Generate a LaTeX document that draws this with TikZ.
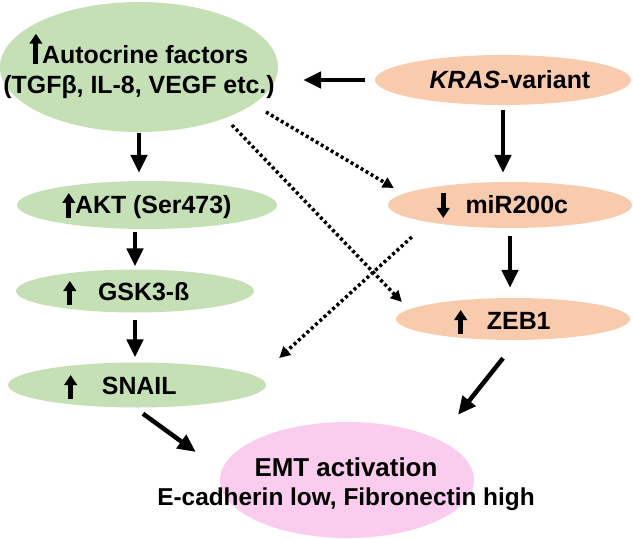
\documentclass[tikz,border=0pt]{standalone}
\usepackage{fontspec}
\setmainfont{Liberation Sans}
\usetikzlibrary{shapes.geometric,arrows.meta,calc}
\definecolor{grn}{HTML}{C5E0B4}
\definecolor{org}{HTML}{F8CBAD}
\definecolor{pnk}{HTML}{FACCEE}
\newcommand\myarrowglyph[2]{\tikz[baseline=0pt]\draw[line width=5bp,-{Triangle[length=10bp,width=12.5bp]}] (0pt,#1) -- (0pt,#2);}
\begin{document}
\begin{tikzpicture}[x=1bp,y=-1bp,
  font=\fontsize{25}{30}\selectfont\bfseries,
  ell/.style={ellipse, inner sep=0pt, draw=none},
  lbl/.style={inner sep=0pt, anchor=base},
  arr/.style={line width=4.5bp, -{Triangle[length=18bp,width=16bp]}},
  dotarr/.style={line width=3.5bp, dash pattern=on 3bp off 2.8bp, -{Triangle[length=11bp,width=11bp]}}]
\useasboundingbox (0,0) rectangle (633,539);
% ellipses
\node[ell, fill=grn, minimum width=278bp, minimum height=130bp] (auto) at (139,67) {};
\node[ell, fill=org, minimum width=256bp, minimum height=50bp] (kras) at (503,80) {};
\node[ell, fill=org, minimum width=244bp, minimum height=46bp] (mir) at (510,205) {};
\node[ell, fill=org, minimum width=234bp, minimum height=42bp] (zeb) at (513,319) {};
\node[ell, fill=grn, minimum width=260bp, minimum height=48bp] (akt) at (147,205) {};
\node[ell, fill=grn, minimum width=238bp, minimum height=43bp] (gsk) at (135,291) {};
\node[ell, fill=grn, minimum width=258bp, minimum height=45bp] (snail) at (137,385) {};
\node[ell, fill=pnk, minimum width=254bp, minimum height=116bp] (emt) at (347,480) {};
% solid arrows
\draw[arr, shorten <=10bp, shorten >=25bp] (kras.west) -- (kras.west -| auto.east);
\draw[arr, shorten <=1bp, shorten >=8bp] (auto.south) -- (auto.south |- akt.north);
\draw[arr, shorten <=3bp, shorten >=3bp] (gsk.north |- akt.south) -- (gsk.north);
\draw[arr, shorten <=7bp, shorten >=5bp] (gsk.south) -- (gsk.south |- snail.north);
\draw[arr, shorten <=5bp, shorten >=9bp] (kras.south) -- (kras.south |- mir.north);
\draw[arr, shorten <=8bp, shorten >=10bp] (mir.south) -- (mir.south |- zeb.north);
\draw[arr] ($(snail.south)+(6,6)$) -- ($(emt.west)+(-24,-28)$);
\draw[arr] ($(zeb.south)+(-10,18)$) -- ($(emt.north)+(111,-7)$);
% dotted arrows
\draw[dotarr] ($(auto.center)+(127,45)$) -- ($(mir.west)+(6,-17)$);
\draw[dotarr] ($(auto.center)+(93,58)$) -- ($(zeb.west)+(6,-17)$);
\draw[dotarr] ($(mir.west)+(24,32)$) -- ($(snail.east)+(13,-27)$);
% labels
\node[align=center, inner sep=0pt] (autoT) at ($(auto)+(0,-2)$) {\myarrowglyph{0bp}{30bp}Autocrine factors\\(TGFβ, IL-8, VEGF etc.)};
\node[lbl] (krasT) at ($(kras)+(7,9)$) {\textit{KRAS}-variant};
\node[lbl] (aktT) at ($(akt)+(0,9)$) {\myarrowglyph{-4bp}{21bp}AKT (Ser473)};
\node[lbl] (gskT) at ($(gsk)+(-8.5,9)$) {\myarrowglyph{-5bp}{19bp}\hspace{22bp}GSK3-ß};
\node[lbl] (snailT) at ($(snail)+(-16.5,9)$) {\myarrowglyph{-5bp}{19bp}\hspace{25bp}SNAIL};
\node[lbl] (mirT) at ($(mir)+(-7.5,9)$) {\myarrowglyph{21bp}{-4bp}\hspace{16bp}miR200c};
\node[lbl] (zebT) at ($(zeb)+(-10.5,10)$) {\myarrowglyph{-5bp}{19bp}\hspace{20bp}ZEB1};
\node[align=center, inner sep=0pt, font=\fontsize{24.5}{29.5}\selectfont\bfseries] (emtT) at ($(emt)+(-1,4.5)$) {{\fontsize{26}{29.5}\selectfont EMT activation}\\E-cadherin low, Fibronectin high};
\end{tikzpicture}
\end{document}
